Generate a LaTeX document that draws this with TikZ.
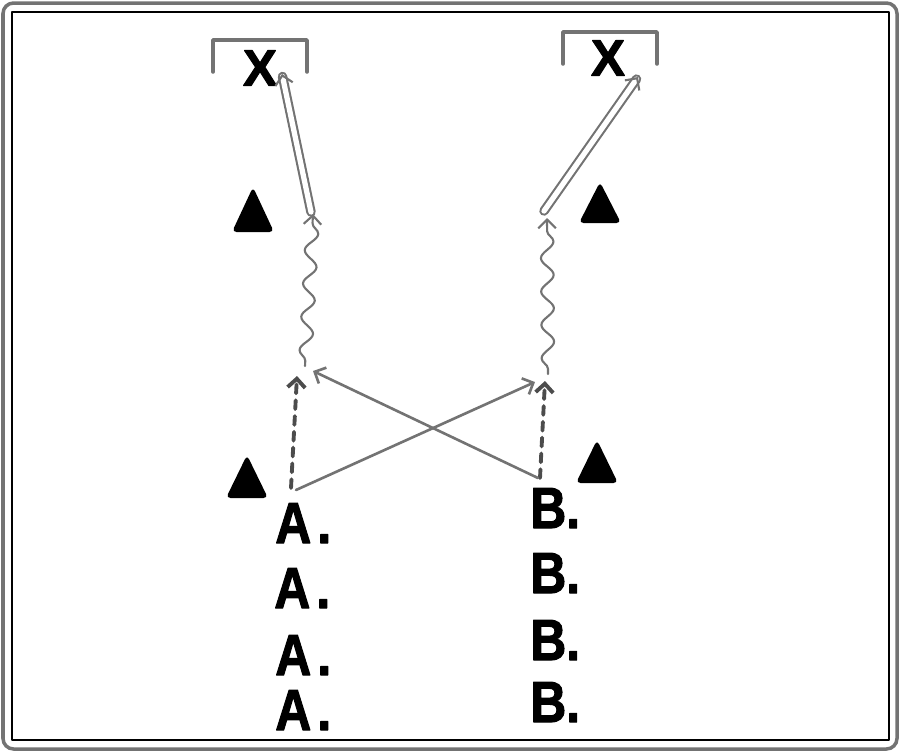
\documentclass[tikz,border=0pt]{standalone}
\usepackage{fontspec}
\newfontfamily\playfont[BoldFeatures={FakeBold=2}]{Liberation Sans}
\usetikzlibrary{arrows.meta,decorations.pathmorphing}
\definecolor{wqwqwq}{rgb}{0.45,0.45,0.45}
\definecolor{sqsqsq}{rgb}{0.3,0.3,0.3}
\tikzset{
  player/.style={font=\playfont\bfseries\fontsize{33}{33}\selectfont,inner sep=0pt,anchor=base west,xscale=0.86},
  goal/.style={font=\playfont\bfseries\fontsize{29}{29}\selectfont,inner sep=0pt},
  route/.style={line width=1.5pt,color=wqwqwq},
  fake/.style={line width=2.2pt,color=sqsqsq,dash pattern=on 5pt off 4pt},
  wavy/.style={line width=1.2pt,color=wqwqwq,decorate,decoration={snake,amplitude=3.6pt,segment length=19pt,pre length=3pt,post length=5pt}},
  deep/.style={line width=1.2pt,color=wqwqwq,double=white,double distance=3pt}
}
\begin{document}
\begin{tikzpicture}[line cap=round,line join=round,>={Straight Barb[length=5pt,width=10pt]},x=0.02cm,y=-0.02cm]
\useasboundingbox (0,0) rectangle (900,752);
% frame
\draw [line width=2.pt,color=wqwqwq,rounded corners=6pt] (3,3) rectangle (897,749);
\draw [line width=0.8pt] (12,12) rectangle (889,740);
% end zones
\draw [line width=2.pt,color=wqwqwq] (213,72)-- (213,40)-- (307,40)-- (307,72);
\draw [line width=2.pt,color=wqwqwq] (563,64)-- (563,32)-- (657,32)-- (657,64);
\node [goal] (xl) at (260,68) {X};
\node [goal] (xr) at (608,58) {X};
% cones
\fill [rounded corners=2.5pt] (253,187)-- (274,232)-- (232,232)-- cycle;
\fill [rounded corners=2.5pt] (600,182)-- (621,223)-- (579,223)-- cycle;
\fill [rounded corners=2.5pt] (247,455)-- (268,498)-- (226,498)-- cycle;
\fill [rounded corners=2.5pt] (597,440)-- (618,483)-- (576,483)-- cycle;
% players
\node [player] (a1) at (275,543) {A\kern4pt.};
\node [player] (a2) at (274,608) {A\kern4pt.};
\node [player] (a3) at (275,675) {A\kern4pt.};
\node [player] (a4) at (275,730) {A\kern4pt.};
\node [player] (b1) at (530,528) {B.};
\node [player] (b2) at (530,593) {B.};
\node [player] (b3) at (530,660) {B.};
\node [player] (b4) at (530,722) {B.};
% route points
\coordinate (as) at (291,488);
\coordinate (ax) at (296,490);
\coordinate (bs) at (540,478);
\coordinate (bx) at (538,478);
\coordinate (lf) at (297,376);
\coordinate (lc) at (313,371);
\coordinate (rf) at (545,381);
\coordinate (rc) at (535,382);
\coordinate (lw) at (305,366);
\coordinate (lt) at (313,214);
\coordinate (rw) at (548,374);
\coordinate (rt) at (547,218);
\coordinate (ls) at (311,212);
\coordinate (rs) at (544,211);
\coordinate (lg) at (282,74);
\coordinate (rg) at (638,77);
% routes
\draw [fake,->] (as)-- (lf);
\draw [fake,->] (bs)-- (rf);
\draw [route,->] (ax)-- (rc);
\draw [route,->] (bx)-- (lc);
\draw [wavy,->] (lw)-- (lt);
\draw [wavy,->] (rw)-- (rt);
\draw [deep,->] (ls)-- (lg);
\draw [deep,->] (rs)-- (rg);
\end{tikzpicture}
\end{document}
